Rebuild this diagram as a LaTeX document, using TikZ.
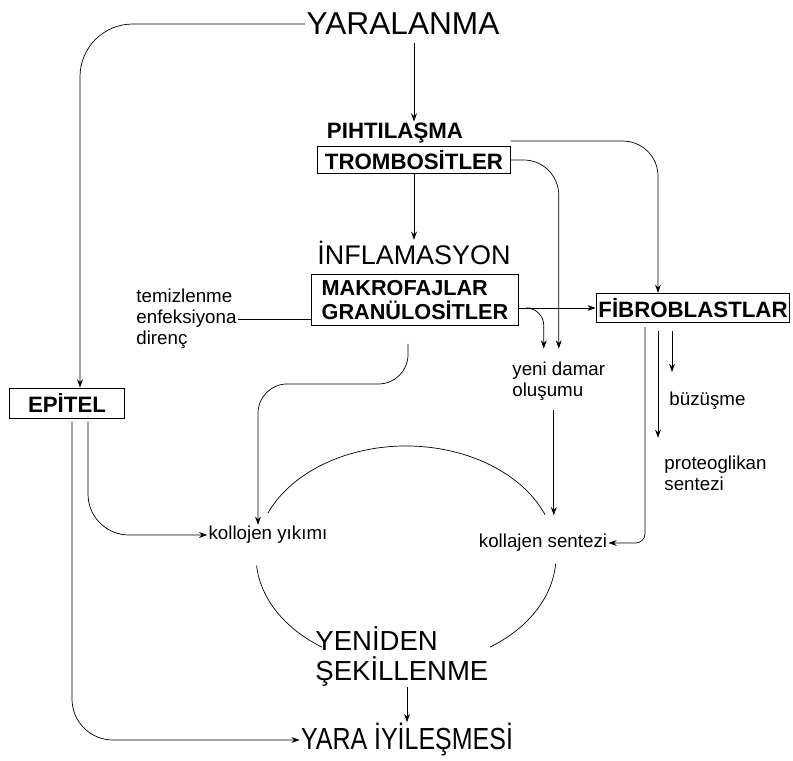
\documentclass[tikz,border=0pt]{standalone}
\usepackage{fontspec}
\setmainfont{Liberation Sans}
\newfontfamily\slimfont{Liberation Sans}[FakeStretch=0.82]
\usetikzlibrary{arrows.meta,calc}

\begin{document}
\begin{tikzpicture}[x=0.03cm,y=-0.03cm]
	\useasboundingbox (0,0) rectangle (793,760);
	% stages
	\begin{scope}[every node/.style={inner sep=1pt}]
		\node[font=\fontsize{27}{30}\selectfont] (yara) at (403,24) {YARALANMA};
		\node[font=\bfseries\fontsize{19}{22}\selectfont] (pihti) at (395,133) {PIHTILAŞMA};
		\node[font=\fontsize{23}{26}\selectfont] (infl) at (414,253) {İNFLAMASYON};
		\node[font=\fontsize{23.5}{25.6}\selectfont, align=left, anchor=west] (yeniden) at (314,656) {YENİDEN\\ŞEKİLLENME};
		\node[font=\slimfont\fontsize{26}{30}\selectfont] (iyiles) at (407,740) {YARA İYİLEŞMESİ};
	\end{scope}
	% cells
	\begin{scope}[every node/.style={draw, line width=0.8pt, inner sep=2pt, font=\bfseries\fontsize{19}{21}\selectfont}]
		\node[minimum width=164pt, minimum height=23pt] (tromb) at (414,160) {TROMBOSİTLER};
		\node[minimum width=176pt, minimum height=43.5pt, align=left, font=\bfseries\fontsize{18.5}{20.5}\selectfont] (makro) at (415,300) {MAKROFAJLAR\\GRANÜLOSİTLER};
		\node[minimum width=165pt, minimum height=25pt] (fibro) at (693,308) {FİBROBLASTLAR};
		\node[minimum width=98pt, minimum height=25.6pt] (epitel) at (67,403) {EPİTEL};
	\end{scope}
	% notes
	\begin{scope}[every node/.style={inner sep=1pt, align=left, font=\fontsize{16}{18}\selectfont}]
		\node[anchor=west] (temiz) at (135,319) {temizlenme\\enfeksiyona\\direnç};
		\node[anchor=west] (damar) at (511,381) {yeni damar\\oluşumu};
		\node[anchor=west] (buzus) at (668,401) {büzüşme};
		\node[anchor=west] (proteo) at (663,473) {proteoglikan\\sentezi};
		\node (yikim) at (268,535) {kollojen yıkımı};
		\node (sentez) at (543,543) {kollajen sentezi};
	\end{scope}
	\coordinate (ring) at (406,556);
	% connectors
	\begin{scope}[line width=0.6pt, >={Stealth[length=7pt,width=5pt]}]
		\draw[->, rounded corners=45] (yara.west) -| ($(epitel.north)+(13,0)$);
		\draw[->, shorten <=6pt] (yara.south -| tromb.center) -- (pihti.north -| tromb.center);
		\draw[->] (tromb.south) -- (infl.north -| tromb.south);
		\draw[->, rounded corners=30] ($(tromb.north east)+(0,-5)$) -| ($(fibro.north)+(-35,0)$);
		\draw[->, rounded corners=30, shorten >=10pt] (tromb.east) -| (damar.north);
		\draw (temiz.east) -- (temiz.east -| makro.west);
		\draw[->] (makro.east |- fibro.west) -- (fibro.west);
		\draw[->, rounded corners=15, shorten >=10pt] ($(makro.east |- fibro.west)+(12,0)$) -| ($(damar.north)+(-15,0)$);
		\draw[->, rounded corners=25] ($(makro.south)+(-7,18)$) -- ++(0,40) -| ($(yikim.north)+(-10,0)$);
		\draw[->, shorten >=15pt] ($(damar.south)+(-5,8)$) coordinate (d1) -- (d1 |- sentez.north);
		\draw[->, rounded corners=8] ($(fibro.south)+(-48,4)$) |- (sentez.east);
		\draw[->, shorten >=16pt] ($(fibro.south)+(-21,8)$) coordinate (f1) -- (f1 |- buzus.north);
		\draw[->, shorten >=14pt] ($(fibro.south)+(-35,8)$) coordinate (f2) -- (f2 |- proteo.north);
		\draw[->, rounded corners=35] ($(epitel.south)+(21,3)$) |- (yikim.west);
		\draw[->, rounded corners=35] ($(epitel.south)+(5,3)$) |- (iyiles.west);
		\draw[->] (yeniden.south -| iyiles.north) -- (iyiles.north);
		% remodelling ring
		\draw ([shift={(22:4.5cm and 3.3cm)}]ring) arc[start angle=22, end angle=157, x radius=4.5cm, y radius=3.3cm];
		\draw ([shift={(185:4.5cm and 3.3cm)}]ring) arc[start angle=185, end angle=236, x radius=4.5cm, y radius=3.3cm];
		\draw ([shift={(304:4.5cm and 3.3cm)}]ring) arc[start angle=304, end angle=356, x radius=4.5cm, y radius=3.3cm];
	\end{scope}
\end{tikzpicture}
\end{document}
